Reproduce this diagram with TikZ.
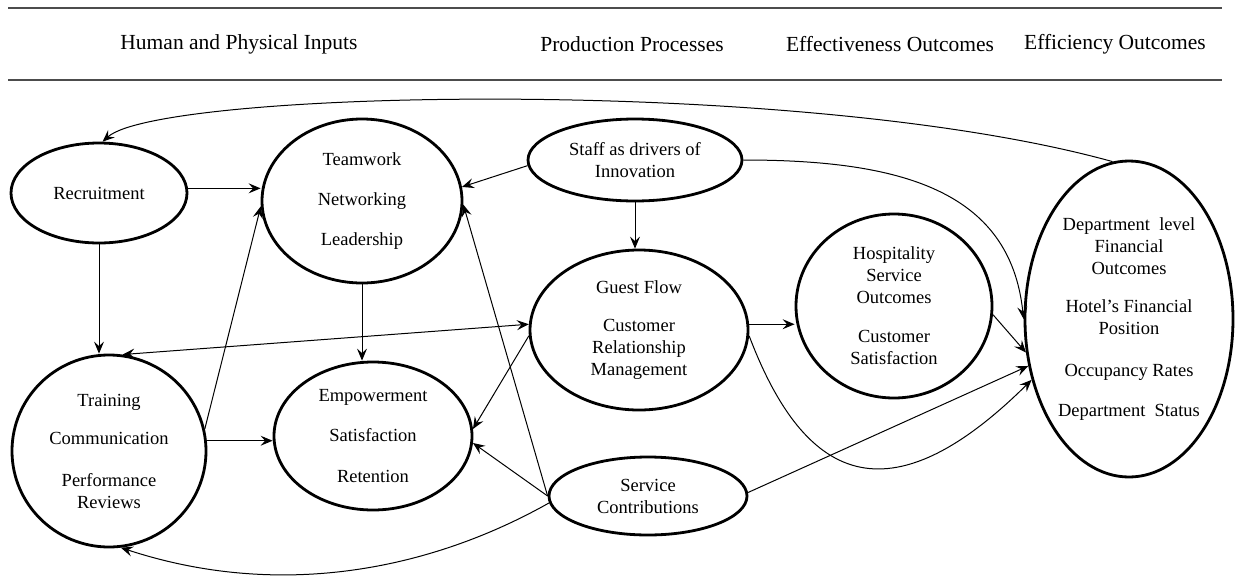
\documentclass[tikz,border=0pt]{standalone}
\usepackage{fontspec}
\setmainfont{Liberation Serif}
\usetikzlibrary{shapes.geometric,arrows.meta}
\newcommand\NdFont{\fontsize{18.5}{22}\selectfont}
\newcommand\HdFont{\fontsize{21.5}{25}\selectfont}
\tikzset{
  ell/.style={draw, line width=2.8pt, ellipse, inner sep=0pt, align=center, font=\NdFont},
  hd/.style={font=\HdFont, inner sep=0pt},
  con/.style={line width=1pt, -{Stealth[length=12pt,width=10pt,inset=4.5pt]}},
  dcon/.style={line width=1pt, {Stealth[length=12pt,width=10pt,inset=4.5pt]}-{Stealth[length=12pt,width=10pt,inset=4.5pt]}},
  rule/.style={line width=1.6pt, draw=black!70},
}
\begin{document}
\begin{tikzpicture}[x=1pt,y=-1pt]
\useasboundingbox (0,0) rectangle (1235,576);
% header
\draw[rule] (8,8) -- (1222,8);
\draw[rule] (8,80) -- (1222,80);
\node[hd] (h1) at (239,44) {Human and Physical Inputs};
\node[hd] (h2) at (632,44) {Production Processes};
\node[hd] (h3) at (890,44) {Effectiveness Outcomes};
\node[hd] (h4) at (1115,44) {Efficiency Outcomes};
% nodes
\node[ell, minimum width=176pt, minimum height=100pt] (Rec) at (99,193) {Recruitment};
\node[ell, minimum width=200pt, minimum height=164pt] (Team) at (362,201) {Teamwork\\[18pt]Networking\\[18pt]Leadership};
\node[ell, minimum width=214pt, minimum height=82pt] (Staff) at (635,160) {Staff as drivers of\\Innovation};
\node[ell, minimum width=218pt, minimum height=160pt] (Guest) at (639,330) {Guest Flow\\[16pt]Customer\\Relationship\\Management};
\node[ell, minimum width=196pt, minimum height=184pt] (Hosp) at (894,306) {Hospitality\\Service\\Outcomes\\[17pt]Customer\\Satisfaction};
\node[ell, minimum width=208pt, minimum height=316pt] (R) at (1129,319) {Department~~level\\Financial\\Outcomes\\[16pt]Hotel's Financial\\Position\\[20pt]Occupancy Rates\\[18pt]Department~~Status};
\node[ell, minimum width=194pt, minimum height=192pt] (Train) at (109,451) {Training\\[16pt]Communication\\[20pt]Performance\\Reviews};
\node[ell, minimum width=198pt, minimum height=148pt] (Emp) at (373,436) {Empowerment\\[18pt]Satisfaction\\[19pt]Retention};
\node[ell, minimum width=198pt, minimum height=78pt] (Serv) at (648,496) {Service\\Contributions};
% connectors
\draw[con] (R.96) .. controls (800,75) and (160,90) .. (Rec.86);
\draw[con] (Rec.3) -- (Rec.3 -| Team.west);
\draw[con] (Rec.south) -- (Rec.south |- Train.north);
\draw[con] (Team.south) -- (Team.south |- Emp.north);
\draw[con] (Train.6) -- (Train.6 -| Emp.west);
\draw[con] (Train.13) -- (Team.183);
\draw[con] (Staff.183) -- (Team.8);
\draw[con] (Serv.west) -- (Team.358);
\draw[con] (Serv.west) -- (Emp.356);
\draw[con] (Guest.183) -- (Emp.4);
\draw[dcon] (Train.82) -- (Guest.177);
\draw[con] (Staff.south) -- (Staff.south |- Guest.north);
\draw[con] (Guest.3) -- (Guest.3 -| Hosp.west);
\draw[con] (Staff.east) .. controls (900,160) and (1010,190) .. (R.180);
\draw[con] (Hosp.355) -- (R.198);
\draw[con] (Serv.2) -- (R.205);
\draw[con] (Guest.357) .. controls (800,470) and (880,530) .. (R.212);
\draw[con] (Serv.184) .. controls (430,570) and (280,600) .. (Train.277);
\end{tikzpicture}
\end{document}
